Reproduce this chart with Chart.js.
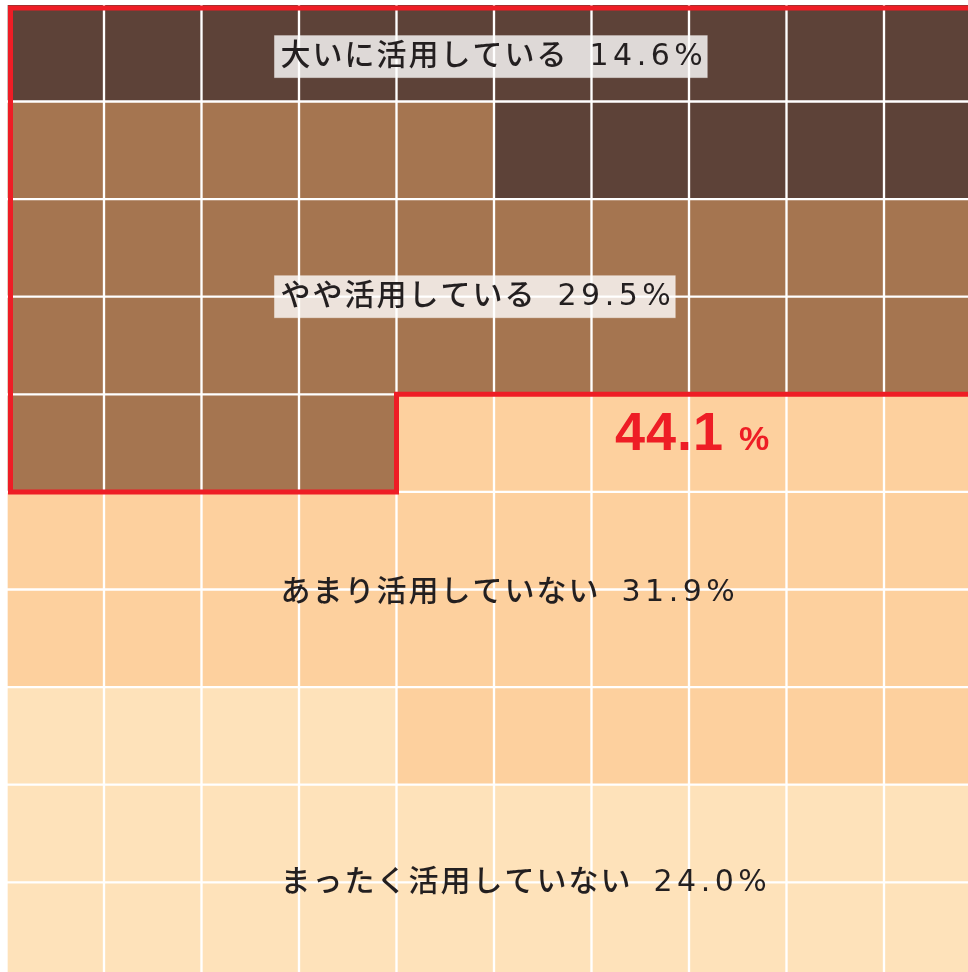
<!DOCTYPE html>
<html>
<head>
<meta charset="utf-8">
<script src="https://cdn.jsdelivr.net/npm/chart.js@4/dist/chart.umd.min.js"></script>
<style>
  html, body { margin: 0; padding: 0; background: #ffffff; overflow: hidden; }
  #wrap { width: 968px; height: 972px; overflow: hidden; }
  canvas { display: block; }
</style>
</head>
<body>
<div id="wrap"><canvas id="c" width="990" height="990"></canvas></div>
<script>
// ---- data ----
const columns = ['1', '2', '3', '4', '5', '6', '7', '8', '9', '10'];
const categories = ['大いに活用している', 'やや活用している', 'あまり活用していない', 'まったく活用していない'];
const percents = [14.6, 29.5, 31.9, 24.0];
const cellCounts = [15, 29, 32, 24];
const usedGroup = [0, 1];
const usedShare = 44.1;

// ---- styles ----
const colors = ['#5D4238', '#A57550', '#FDD09E', '#FEE2BA'];
const RED = '#EE1D25';
const TEXT = '#231F20';

// build the waffle grid: cells filled from bottom-left in a snake order
const nCols = columns.length, nRows = 10;
const grid = Array.from({ length: nRows }, () => new Array(nCols).fill(0));
const fillOrder = categories.map((_, i) => i).reverse();
let k = 0;
fillOrder.forEach(cat => {
  for (let n = 0; n < cellCounts[cat]; n++) {
    const row = Math.floor(k / nCols);
    const pos = k % nCols;
    const col = row % 2 === 0 ? pos : nCols - 1 - pos;
    grid[row][col] = cat;
    k++;
  }
});

const datasets = grid.map((rowCats, r) => ({
  label: 'row' + r,
  data: columns.map(() => 1),
  backgroundColor: rowCats.map(c => colors[c]),
  borderColor: '#ffffff',
  borderWidth: 1.5,
  borderSkipped: false,
  categoryPercentage: 1,
  barPercentage: 1,
  stack: 'w'
}));

const overlay = {
  id: 'overlay',
  afterDatasetsDraw(chart) {
    const ctx = chart.ctx;
    const a = chart.chartArea;
    const ys = chart.scales.y;
    const cw = (a.right - a.left) / nCols;
    const ch = (a.bottom - a.top) / nRows;

    // ---- red outline around the "used" group ----
    const used = (r, c) => usedGroup.includes(grid[r][c]);
    let fullRows = 0; // full rows counted from top
    for (let r = nRows - 1; r >= 0; r--) {
      if (grid[r].every((_, c) => used(r, c))) fullRows++; else break;
    }
    const pr = nRows - 1 - fullRows; // partial row index (from bottom)
    const partCols = [];
    if (pr >= 0) grid[pr].forEach((_, c) => { if (used(pr, c)) partCols.push(c); });
    const ins = 4;
    const L = a.left + ins, R = a.right - ins, T = a.top + ins;
    const yFull = a.top + fullRows * ch;
    const yPart = yFull + ch;
    ctx.save();
    ctx.strokeStyle = RED;
    ctx.lineWidth = 5;
    ctx.lineJoin = 'miter';
    ctx.beginPath();
    ctx.moveTo(L, T);
    ctx.lineTo(R, T);
    if (partCols.length && Math.min(...partCols) === 0) {
      const xs = a.left + (Math.max(...partCols) + 1) * cw;
      ctx.lineTo(R, yFull);
      ctx.lineTo(xs, yFull);
      ctx.lineTo(xs, yPart);
      ctx.lineTo(L, yPart);
    } else if (partCols.length) {
      const xs = a.left + Math.min(...partCols) * cw;
      ctx.lineTo(R, yPart);
      ctx.lineTo(xs, yPart);
      ctx.lineTo(xs, yFull);
      ctx.lineTo(L, yFull);
    } else {
      ctx.lineTo(R, yFull);
      ctx.lineTo(L, yFull);
    }
    ctx.closePath();
    ctx.stroke();
    ctx.restore();

    // ---- category labels ----
    const labelY = [9.46, 7.0, 3.97, 1.0];
    const tx = a.left + 2.81 * cw;
    categories.forEach((name, i) => {
      const y = ys.getPixelForValue(labelY[i]);
      ctx.save();
      ctx.font = '500 30px "DejaVu Sans", "Noto Sans CJK JP", sans-serif';
      ctx.textBaseline = 'middle';
      ctx.textAlign = 'left';
      const numTxt = percents[i].toFixed(1) + '%';
      ctx.letterSpacing = '2px';
      const w1 = ctx.measureText(name).width;
      ctx.letterSpacing = '4.5px';
      const w2 = ctx.measureText(numTxt).width;
      const gap = 21;
      if (usedGroup.includes(i)) {
        ctx.fillStyle = 'rgba(255,255,255,0.8)';
        ctx.fillRect(tx - 6, y - 21, w1 + gap + w2 + 6, 42);
        ctx.strokeStyle = 'rgba(255,255,255,0.35)';
        ctx.lineWidth = 1;
        ctx.strokeRect(tx - 6, y - 21, w1 + gap + w2 + 6, 42);
      }
      ctx.fillStyle = TEXT;
      ctx.letterSpacing = '2px';
      ctx.fillText(name, tx, y + 1);
      ctx.letterSpacing = '4.5px';
      ctx.fillText(numTxt, tx + w1 + gap, y + 1);
      ctx.restore();
    });

    // ---- used share label ----
    ctx.save();
    ctx.fillStyle = RED;
    ctx.textBaseline = 'alphabetic';
    ctx.textAlign = 'left';
    const bx = a.left + 6.24 * cw;
    const by = ys.getPixelForValue(5.43);
    ctx.font = 'bold 54px "Liberation Sans", Arial, sans-serif';
    ctx.letterSpacing = '1px';
    const big = usedShare.toFixed(1);
    const bw = ctx.measureText(big).width;
    ctx.fillText(big, bx, by);
    ctx.letterSpacing = '0px';
    ctx.font = 'bold 34px "Liberation Sans", Arial, sans-serif';
    ctx.fillText('%', bx + bw + 15, by);
    ctx.restore();
  }
};

new Chart(document.getElementById('c'), {
  type: 'bar',
  data: { labels: columns, datasets },
  options: {
    responsive: false,
    animation: false,
    layout: { padding: { left: 6.5, top: 3.9, right: 8.5, bottom: 10.1 } },
    scales: {
      x: { stacked: true, display: false },
      y: { stacked: true, display: false, min: 0, max: 10 }
    },
    plugins: { legend: { display: false }, tooltip: { enabled: false } },
    events: []
  },
  plugins: [overlay]
});
</script>
</body>
</html>
